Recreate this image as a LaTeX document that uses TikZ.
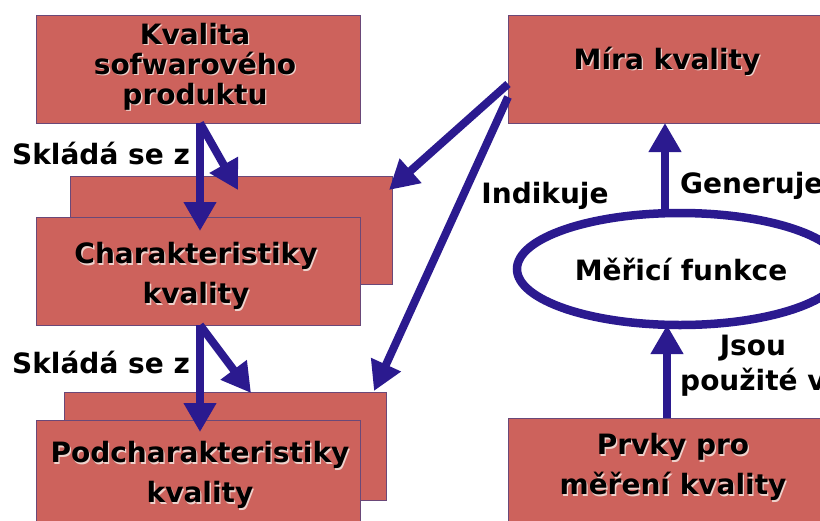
\documentclass[tikz,border=0pt]{standalone}
\usepackage{fontspec}
\setmainfont{DejaVu Sans}
\usetikzlibrary{arrows.meta,shapes.geometric}
\definecolor{boxfill}{HTML}{CD625C}
\definecolor{boxline}{HTML}{6A4878}
\definecolor{arrowc}{HTML}{2B1A8F}
\definecolor{shadowc}{HTML}{EFD2CC}
% bold text with a light offset shadow
\newcommand\shd[1]{\leavevmode\rlap{\kern1.3pt\raisebox{-1.3pt}{\color{shadowc}#1}}#1}
\tikzset{
  qbox/.style={draw=boxline, line width=1pt, fill=boxfill, rectangle,
    minimum width=324pt, minimum height=108pt, inner sep=0pt},
  backbox/.style={qbox, minimum width=322pt},
  boxtext/.style={align=center, inner sep=0pt, font=\bfseries\fontsize{28}{40}\selectfont},
  lbl/.style={inner sep=0pt, font=\bfseries\fontsize{28}{35}\selectfont},
  bigarrow/.style={draw=arrowc, line width=8pt,
    -{Triangle[width=31pt,length=29pt]}, fill=arrowc}
}
\begin{document}
\begin{tikzpicture}[x=1pt,y=-1pt]
\useasboundingbox (0,0) rectangle (820,520);
\clip (0,0) rectangle (820,520);
\fill[white] (0,0) rectangle (820,520);

% left column of boxes
\node[qbox] (prod) at (198,69) {};
\node[boxtext, font=\bfseries\fontsize{28}{30}\selectfont] (prodt) at (195,67)
  {\shd{Kvalita}\\\shd{sofwarového}\\\shd{produktu}};
\node[backbox] (charback) at (231,230) {};
\node[qbox] (char) at (198,271) {};
\node[boxtext] (chart) at (196,277) {\shd{Charakteristiky}\\\shd{kvality}};
\node[backbox] (subback) at (225,446) {};
\node[qbox] (sub) at (198,474) {};
\node[boxtext] (subt) at (200,476) {\shd{Podcharakteristiky}\\\shd{kvality}};

% right column
\node[qbox] (mira) at (670,69) {};
\node[boxtext] (mirat) at (667,62) {\shd{Míra kvality}};
\node[draw=arrowc, line width=8.5pt, ellipse, minimum width=326pt,
  minimum height=112pt, inner sep=0pt] (fun) at (680,269) {};
\node[boxtext] (funt) at (681,269) {Měřicí funkce};
\node[qbox] (prvky) at (670,472) {};
\node[boxtext] (prvkyt) at (673,468) {\shd{Prvky pro}\\\shd{měření kvality}};

% connector ends
\coordinate (p1) at (200,123);
\coordinate (c1) at (200,231);
\coordinate (cb1) at (238,190);
\coordinate (p2) at (200,325);
\coordinate (c2) at (200,432);
\coordinate (cb2) at (251,393);
\coordinate (m1) at (508,84);
\coordinate (m2) at (508,97);
\coordinate (mt1) at (389,190);
\coordinate (mt2) at (374,391);
\coordinate (g0) at (665,214);
\coordinate (g1) at (665,123);
\coordinate (j0) at (667,418);
\coordinate (j1) at (667,325);

\draw[bigarrow] (p1) -- (c1);
\draw[bigarrow] (p1) -- (cb1);
\draw[bigarrow] (p2) -- (c2);
\draw[bigarrow] (p2) -- (cb2);
\draw[bigarrow] (m1) -- (mt1);
\draw[bigarrow] (m2) -- (mt2);
\draw[bigarrow] (g0) -- (g1);
\draw[bigarrow] (j0) -- (j1);

% connector labels
\node[lbl, anchor=west] (s1) at (12,153) {Skládá se z};
\node[lbl, anchor=west] (s2) at (12,362) {Skládá se z};
\node[lbl] (ind) at (545,196) {Indikuje};
\node[lbl, anchor=west] (gen) at (680,186) {Generuje};
\node[lbl, align=center, anchor=west] (jsou) at (680,366) {Jsou\\použité v};
\end{tikzpicture}
\end{document}
